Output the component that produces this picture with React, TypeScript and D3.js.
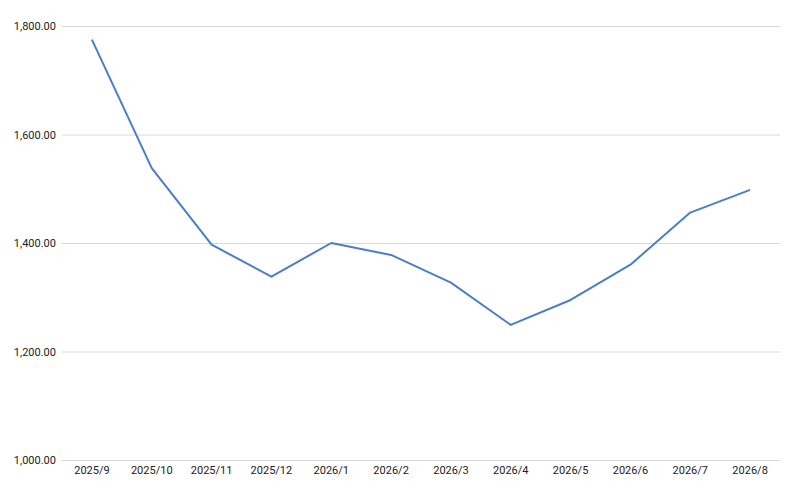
import React, { useEffect, useRef } from 'react';
import * as d3 from 'd3';

const months = [
  '2025/9', '2025/10', '2025/11', '2025/12', '2026/1', '2026/2',
  '2026/3', '2026/4', '2026/5', '2026/6', '2026/7', '2026/8',
];
const values = [1775, 1538, 1397, 1338, 1400, 1378, 1327, 1249, 1295, 1360, 1456, 1498];
const yTicks = [1000, 1200, 1400, 1600, 1800];

const width = 800;
const height = 496;

const App: React.FC = () => {
  const svgRef = useRef<SVGSVGElement>(null);

  useEffect(() => {
    if (!svgRef.current) return;
    const svg = d3.select(svgRef.current);
    svg.selectAll('*').remove();

    const margin = { top: 26, right: 20, bottom: 36, left: 62 };
    const innerWidth = width - margin.left - margin.right;
    const innerHeight = height - margin.top - margin.bottom;

    const g = svg.append('g')
      .attr('transform', `translate(${margin.left},${margin.top})`);

    const x = d3.scaleBand<string>()
      .domain(months)
      .range([0, innerWidth]);

    const y = d3.scaleLinear()
      .domain([1000, 1800])
      .range([innerHeight, 0]);

    // gridlines
    g.append('g')
      .call(d3.axisLeft(y).tickValues(yTicks).tickSize(-innerWidth).tickFormat(() => ''))
      .call(s => s.select('.domain').remove())
      .selectAll('line')
      .attr('stroke', '#d9d9d9')
      .attr('stroke-width', 1);

    // y labels
    g.append('g')
      .call(d3.axisLeft(y).tickValues(yTicks).tickSize(0).tickPadding(6).tickFormat(d3.format(',.2f')))
      .call(s => s.select('.domain').remove())
      .selectAll('text')
      .attr('fill', '#222222')
      .style('font-family', 'Roboto, Arial, sans-serif')
      .style('font-size', '11px');

    // x labels
    g.append('g')
      .attr('transform', `translate(0,${innerHeight})`)
      .call(d3.axisBottom(x).tickSize(0).tickPadding(6))
      .call(s => s.select('.domain').remove())
      .selectAll('text')
      .attr('fill', '#222222')
      .style('font-family', 'Roboto, Arial, sans-serif')
      .style('font-size', '11px');

    const line = d3.line<number>()
      .x((_, i) => (x(months[i]) ?? 0) + x.bandwidth() / 2)
      .y(d => y(d));

    g.append('path')
      .datum(values)
      .attr('fill', 'none')
      .attr('stroke', '#4a7ec9')
      .attr('stroke-width', 2)
      .attr('stroke-linejoin', 'round')
      .attr('d', line);
  }, []);

  return (
    <svg
      ref={svgRef}
      width={width}
      height={height}
      style={{ display: 'block', position: 'absolute', left: 0, top: 0, background: '#ffffff' }}
    />
  );
};

export default App;
